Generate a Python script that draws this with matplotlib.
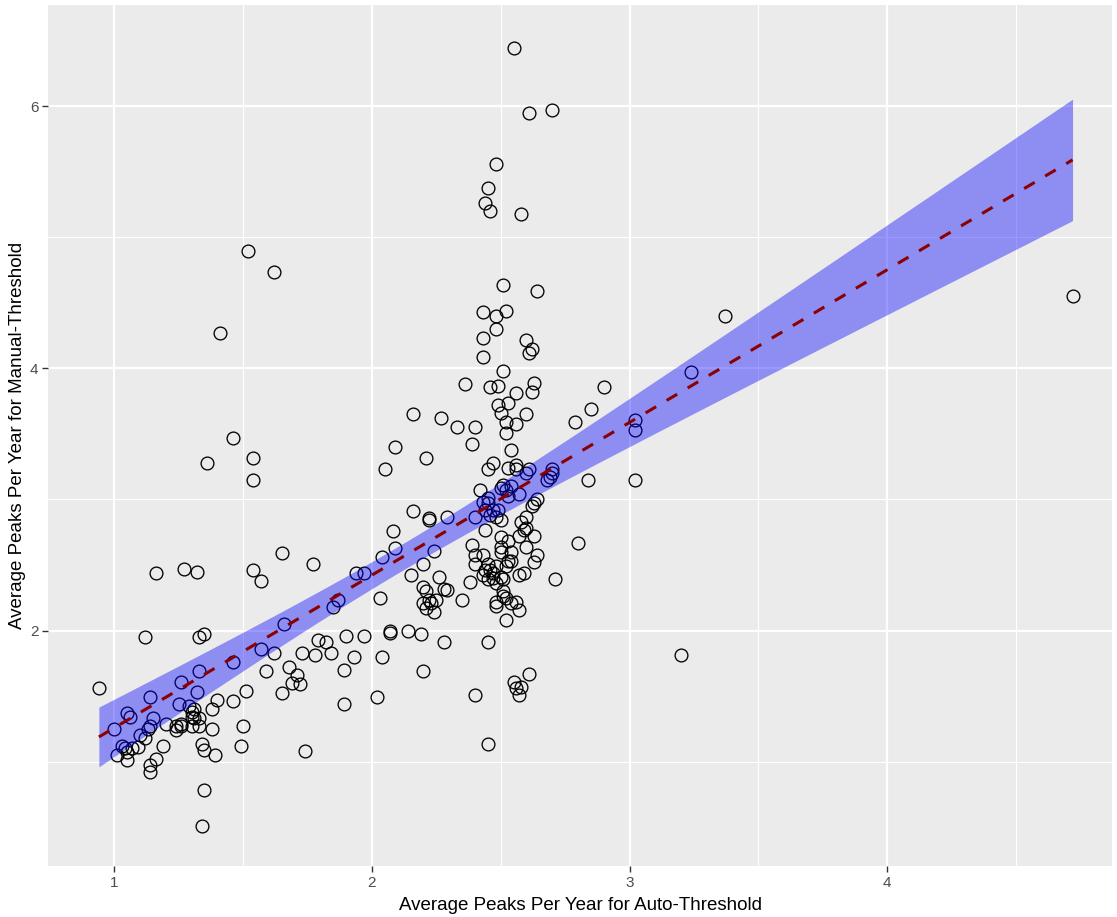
import numpy as np
import matplotlib.pyplot as plt

plt.rcParams['font.family'] = ['Liberation Sans', 'DejaVu Sans']

# average peaks per year, auto threshold (x) vs manual threshold (y)
auto_thr = np.array([
    1.12, 1.33, 1.35, 0.94, 1.00, 1.05, 1.06, 1.14, 1.26, 1.33,
    1.32, 1.25, 1.29, 1.46, 1.57, 1.59, 1.15, 1.14, 1.13, 1.10,
    1.20, 1.03, 1.04, 1.01, 1.05, 1.07, 1.09, 1.05, 1.12, 1.19,
    1.16, 1.14, 1.14, 1.24, 1.24, 1.26, 1.26, 1.30, 1.31, 1.30,
    1.31, 1.33, 1.30, 1.33, 1.38, 1.40, 1.46, 1.51, 1.38, 1.34,
    1.35, 1.39, 1.50, 1.49, 1.35, 1.34,
    1.52, 1.62, 1.41, 1.46, 1.36, 1.54, 1.54, 1.65, 1.16, 1.27,
    1.32, 1.54, 1.57,
    1.77, 2.08, 2.22, 2.09, 2.04, 1.94, 1.97, 2.20, 2.15, 2.24,
    2.03, 1.87, 1.85, 1.66, 1.62, 1.68, 1.71, 1.69, 1.72, 1.65,
    1.73, 1.78, 1.79, 1.82, 1.84, 1.90, 1.97, 1.89, 1.93, 2.04,
    2.07, 2.07, 2.14, 2.19, 2.20, 2.02, 1.89, 1.74,
    2.20, 2.21, 2.22, 2.20, 2.21, 2.25, 2.24, 2.23,
    2.36, 2.16, 2.27, 2.33, 2.40, 2.09, 2.39, 2.21, 2.05, 2.45,
    2.42, 2.16, 2.22, 2.29, 2.40, 2.44, 2.43, 2.44,
    2.26, 2.38, 2.28, 2.29, 2.35, 2.28, 2.45, 2.40, 2.45,
    2.51, 2.64, 2.43, 2.48, 2.52, 2.48, 2.43, 2.60, 2.62, 2.61,
    2.43, 2.51, 2.46, 2.49, 2.63, 2.62, 2.56, 2.49, 2.53, 2.50,
    2.60, 2.52, 2.56,
    2.52, 2.54, 2.47, 2.56, 2.53, 2.56, 2.61, 2.60, 2.70, 2.70,
    2.69, 2.68, 2.51, 2.52, 2.50, 2.54, 2.57, 2.53, 2.45, 2.45,
    2.47, 2.49, 2.46, 2.48, 2.50, 2.64, 2.63, 2.62, 2.60, 2.58,
    2.60, 2.59, 2.50, 2.53, 2.57, 2.63, 2.39, 2.60,
    2.50, 2.50, 2.54, 2.64, 2.63, 2.40, 2.40, 2.43,
    2.44, 2.43, 2.45, 2.45, 2.46, 2.47, 2.48, 2.50, 2.47, 2.51,
    2.53, 2.52, 2.48, 2.54, 2.57, 2.59, 2.71,
    2.51, 2.51, 2.48, 2.48, 2.52, 2.54, 2.56, 2.57, 2.52,
    2.61, 2.55, 2.56, 2.58, 2.57,
    2.55, 2.61, 2.70, 2.48, 2.45, 2.44, 2.46, 2.58,
    2.90, 2.85, 2.79, 3.24, 3.02, 3.02, 2.84, 3.02, 2.80,
    3.37, 4.72, 3.20,
])
manual_thr = np.array([
    1.95, 1.95, 1.97, 1.56, 1.25, 1.37, 1.34, 1.49, 1.61, 1.69,
    1.53, 1.44, 1.42, 1.76, 1.86, 1.69, 1.33, 1.27, 1.25, 1.20,
    1.29, 1.12, 1.10, 1.05, 1.07, 1.10, 1.11, 1.01, 1.18, 1.12,
    1.02, 0.97, 0.92, 1.27, 1.24, 1.29, 1.27, 1.38, 1.40, 1.34,
    1.33, 1.33, 1.27, 1.27, 1.40, 1.47, 1.46, 1.54, 1.25, 1.13,
    1.09, 1.05, 1.27, 1.12, 0.78, 0.51,
    4.90, 4.74, 4.27, 3.47, 3.28, 3.32, 3.15, 2.59, 2.44, 2.47,
    2.45, 2.46, 2.38,
    2.51, 2.76, 2.84, 2.63, 2.56, 2.44, 2.44, 2.51, 2.42, 2.61,
    2.25, 2.23, 2.18, 2.05, 1.83, 1.72, 1.66, 1.60, 1.59, 1.52,
    1.83, 1.81, 1.93, 1.91, 1.83, 1.96, 1.96, 1.70, 1.80, 1.80,
    2.00, 1.98, 2.00, 1.97, 1.69, 1.49, 1.44, 1.08,
    2.33, 2.30, 2.23, 2.21, 2.17, 2.23, 2.14, 2.21,
    3.88, 3.65, 3.62, 3.55, 3.55, 3.40, 3.42, 3.32, 3.23, 3.23,
    3.07, 2.91, 2.86, 2.87, 2.87, 2.77, 2.98, 2.92,
    2.41, 2.37, 2.32, 2.31, 2.23, 1.91, 1.91, 1.51, 1.13,
    4.64, 4.59, 4.43, 4.40, 4.44, 4.30, 4.23, 4.22, 4.15, 4.12,
    4.09, 3.98, 3.86, 3.87, 3.89, 3.82, 3.81, 3.72, 3.74, 3.66,
    3.65, 3.59, 3.58,
    3.51, 3.38, 3.28, 3.26, 3.24, 3.23, 3.23, 3.20, 3.23, 3.20,
    3.17, 3.15, 3.11, 3.07, 3.09, 3.10, 3.04, 3.03, 3.01, 2.97,
    2.92, 2.92, 2.88, 2.87, 2.84, 3.00, 2.97, 2.95, 2.87, 2.83,
    2.78, 2.77, 2.71, 2.68, 2.72, 2.72, 2.65, 2.64,
    2.64, 2.60, 2.60, 2.58, 2.52, 2.58, 2.51, 2.58,
    2.46, 2.42, 2.39, 2.51, 2.46, 2.44, 2.49, 2.41, 2.40, 2.39,
    2.53, 2.49, 2.36, 2.53, 2.42, 2.44, 2.39,
    2.30, 2.26, 2.22, 2.19, 2.25, 2.21, 2.22, 2.16, 2.08,
    1.67, 1.61, 1.56, 1.57, 1.51,
    6.45, 5.95, 5.97, 5.56, 5.38, 5.26, 5.20, 5.18,
    3.86, 3.69, 3.59, 3.97, 3.61, 3.53, 3.15, 3.15, 2.67,
    4.40, 4.55, 1.81,
])

x_ticks = [1, 2, 3, 4]
y_ticks = [2, 4, 6]

# linear fit with 95% confidence band
n = len(auto_thr)
slope, icpt = np.polyfit(auto_thr, manual_thr, 1)
resid = manual_thr - (slope * auto_thr + icpt)
s = np.sqrt(np.sum(resid ** 2) / (n - 2))
xbar = auto_thr.mean()
sxx = np.sum((auto_thr - xbar) ** 2)
xs = np.linspace(auto_thr.min(), auto_thr.max(), 80)
fit = slope * xs + icpt
se = s * np.sqrt(1 / n + (xs - xbar) ** 2 / sxx)
t_crit = 1.969

fig = plt.figure(figsize=(11.17, 9.17), dpi=100)
ax = fig.add_axes([0.043, 0.0556, 0.9525, 0.939])
ax.set_facecolor('#EBEBEB')
for sp in ax.spines.values():
    sp.set_visible(False)

ax.set_xlim(0.7426, 4.873)
ax.set_ylim(0.2023, 6.775)

for v in [1.5, 2.5, 3.5, 4.5]:
    ax.axvline(v, color='white', lw=0.8, zorder=0)
for v in [1, 3, 5]:
    ax.axhline(v, color='white', lw=0.8, zorder=0)
for v in x_ticks:
    ax.axvline(v, color='white', lw=1.6, zorder=0)
for v in y_ticks:
    ax.axhline(v, color='white', lw=1.6, zorder=0)

ax.plot(auto_thr, manual_thr, 'o', mfc='none', mec='black', ms=9.2, mew=0.95, zorder=2)
ax.fill_between(xs, fit - t_crit * se, fit + t_crit * se, color='blue', alpha=0.4, lw=0, zorder=3)
ax.plot(xs, fit, color='#8B0000', lw=2.2, ls=(0, (4, 4)), zorder=4)

ax.set_xticks(x_ticks)
ax.set_yticks(y_ticks)
ax.tick_params(axis='both', length=4, width=1, color='#333333', labelcolor='#4D4D4D', labelsize=11, pad=3)
ax.set_xlabel('Average Peaks Per Year for Auto-Threshold', fontsize=13.5, labelpad=5)
ax.set_ylabel('Average Peaks Per Year for Manual-Threshold', fontsize=13.5, labelpad=3)

fig.savefig('out.png', dpi=100)
